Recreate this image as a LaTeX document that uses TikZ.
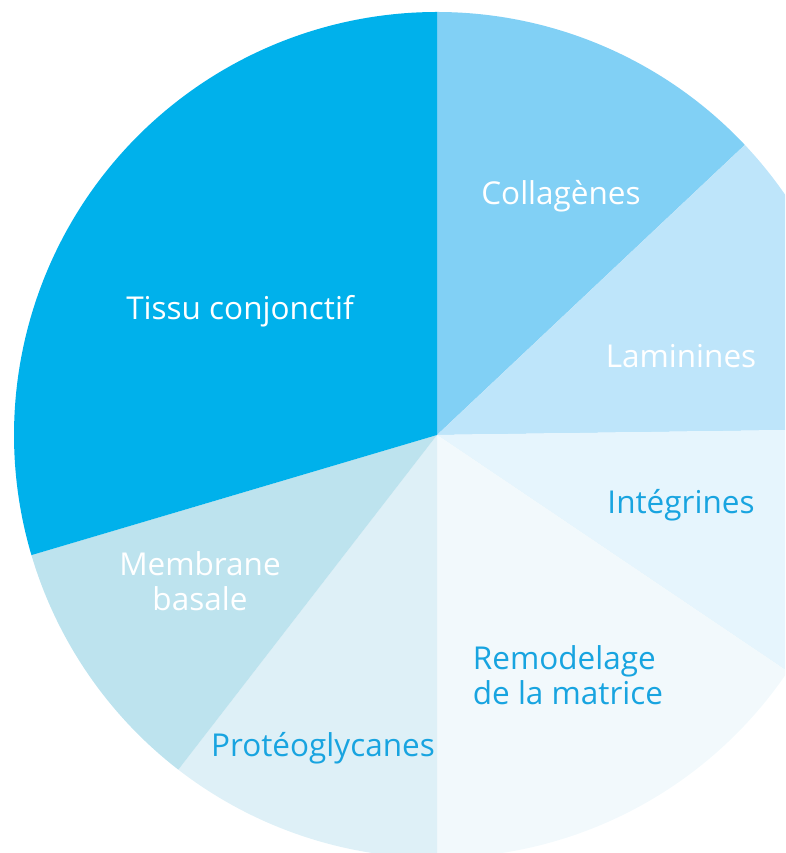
\documentclass[tikz,border=0pt]{standalone}
\usepackage{fontspec}
\setmainfont{Open Sans}
\usetikzlibrary{positioning}

\definecolor{tissuCol}{HTML}{00B1EB}
\definecolor{collaCol}{HTML}{81D0F5}
\definecolor{laminCol}{HTML}{BEE5FA}
\definecolor{integCol}{HTML}{E6F5FD}
\definecolor{remodCol}{HTML}{F2F9FC}
\definecolor{proteoCol}{HTML}{DEF0F7}
\definecolor{membrCol}{HTML}{BDE3EE}
\definecolor{labelBlue}{HTML}{18A4E0}

\begin{document}
\begin{tikzpicture}
[x=1pt,y=1pt,%
  labelWhite/.style={text=white,font=\fontsize{31.5}{35}\selectfont,align=center},%
  labelBlueText/.style={text=labelBlue,font=\fontsize{31.5}{35}\selectfont,align=center}]
\useasboundingbox (0,0) rectangle (785,853);
\clip (0,0) rectangle (785,853);
\coordinate (centre) at (437,418);
%% slices
\foreach \col/\from/\to in {collaCol/90/43.3, laminCol/43.3/0.8, integCol/0.8/-34,
  remodCol/-34/-90, proteoCol/-90/-127.7, membrCol/-127.7/-163.5, tissuCol/-163.5/-270}
{
  \fill[\col] (centre) -- ++(\from:423) arc[start angle=\from, end angle=\to, radius=423] -- cycle;
}
%% labels
\node (tissu) at (240,542) [labelWhite] {Tissu conjonctif};
\node (collagenes) at (561,657) [labelWhite] {Collagènes};
\node (laminines) at (681,497) [labelWhite] {Laminines};
\node (membrane) at (200,272) [labelWhite] {Membrane\\basale};
\node (integrines) at (681,348) [labelBlueText] {Intégrines};
\node (remodelage) at (568,178) [labelBlueText,align=left] {Remodelage\\de la matrice};
\node (proteo) at (323,105) [labelBlueText] {Protéoglycanes};
\end{tikzpicture}
\end{document}
